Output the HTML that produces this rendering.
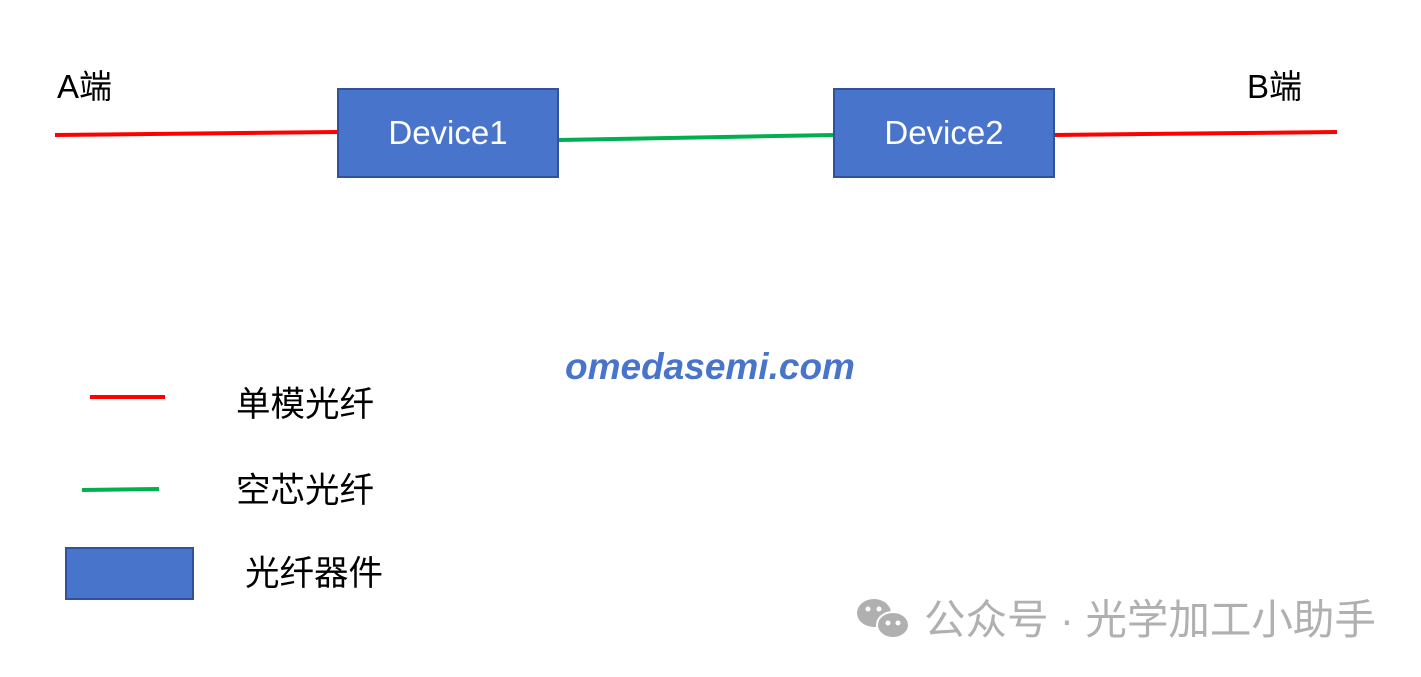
<!DOCTYPE html>
<html><head><meta charset="utf-8"><style>
body{margin:0;width:1421px;height:677px;background:#fff;position:relative;overflow:hidden;font-family:"Liberation Sans","Noto Sans CJK SC",sans-serif}
.t{position:absolute;white-space:nowrap;line-height:1}
.box{position:absolute;background:#4874cb;border:2px solid #2f529a;box-sizing:border-box;color:#fff;font-size:33px;display:flex;align-items:center;justify-content:center}
</style></head><body>
<svg width="1421" height="677" style="position:absolute;left:0;top:0">
<line x1="55" y1="135" x2="338" y2="132" stroke="#ff0000" stroke-width="4"/>
<line x1="558" y1="140" x2="834" y2="135" stroke="#00b050" stroke-width="4"/>
<line x1="1054" y1="135" x2="1337" y2="132" stroke="#ff0000" stroke-width="4"/>
<line x1="90" y1="397" x2="165" y2="397" stroke="#ff0000" stroke-width="4"/>
<line x1="82" y1="490" x2="159" y2="489" stroke="#00b050" stroke-width="4"/>
<g fill="#b0b0b0"><ellipse cx="874" cy="613" rx="17" ry="14"/><ellipse cx="893" cy="625" rx="16" ry="13" stroke="#fff" stroke-width="2"/></g>
<g fill="#fff"><circle cx="868" cy="609" r="2.5"/><circle cx="879" cy="609" r="2.5"/><circle cx="888" cy="623" r="2.5"/><circle cx="898" cy="623" r="2.5"/></g>
</svg>
<div class="t" style="left:57px;top:70px;font-size:33px">A端</div>
<div class="t" style="left:1247px;top:70px;font-size:33px">B端</div>
<div class="box" style="left:337px;top:88px;width:222px;height:90px">Device1</div>
<div class="box" style="left:833px;top:88px;width:222px;height:90px">Device2</div>
<div class="t" style="left:565px;top:348px;font-size:37px;font-weight:bold;font-style:italic;color:#4874cb">omedasemi.com</div>
<div class="t" style="left:236px;top:388px;font-size:34.5px">单模光纤</div>
<div class="t" style="left:236px;top:474px;font-size:34.5px">空芯光纤</div>
<div class="box" style="left:65px;top:547px;width:129px;height:53px"></div>
<div class="t" style="left:245px;top:557px;font-size:34.5px">光纤器件</div>
<div class="t" style="left:924px;top:599px;font-size:41.5px;color:#b0b0b0">公众号 · 光学加工小助手</div>
</body></html>
